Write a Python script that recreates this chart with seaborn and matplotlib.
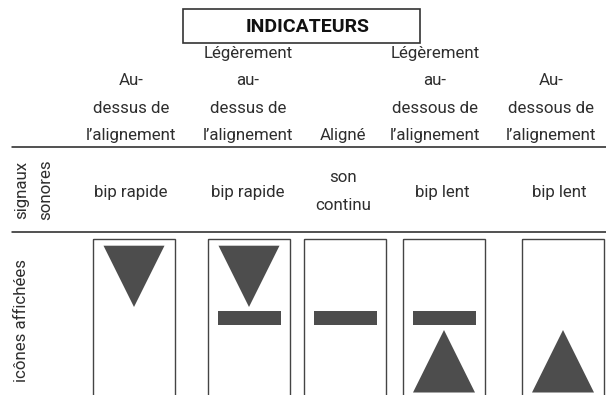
import matplotlib.pyplot as plt
from matplotlib.patches import Polygon, Rectangle
import seaborn as sns

sns.set_theme(style="white")
plt.rcParams['font.family'] = ['Roboto', 'DejaVu Sans']

# table content
title = "INDICATEURS"
headers = [
    ["Au-", "dessus de", "l’alignement"],
    ["Légèrement", "au-", "dessus de", "l’alignement"],
    ["Aligné"],
    ["Légèrement", "au-", "dessous de", "l’alignement"],
    ["Au-", "dessous de", "l’alignement"],
]
sounds = [["bip rapide"], ["bip rapide"], ["son", "continu"], ["bip lent"], ["bip lent"]]
icons = ["down", "down_bar", "bar", "bar_up", "up"]
row_labels = [["signaux", "sonores"], ["icônes affichées"]]

# layout (pixels)
head_x = [131, 248, 343, 435, 551]
sound_x = [131, 248, 343, 442, 559]
box_left = [93, 208, 304, 403, 522]
box_w = 82
dark = "#4d4d4d"
txt = "#2e2e2e"
fs = 12.2

fig = plt.figure(figsize=(6.06, 3.95), dpi=100)
ax = fig.add_axes([0, 0, 1, 1])
ax.set_xlim(0, 606)
ax.set_ylim(395, 0)
ax.axis("off")

# title box
ax.add_patch(Rectangle((183, 9), 237, 34, fill=False, ec="#333333", lw=1.2))
ax.text(308, 26.5, title, ha="center", va="center", fontsize=14,
        weight="bold", color="#111111")

# column headers, bottom aligned
pitch = 27.3
for x, lines in zip(head_x, headers):
    for i, line in enumerate(reversed(lines)):
        ax.text(x, 140 - i * pitch, line, ha="center", va="baseline",
                fontsize=fs, color=txt)

# separators
ax.plot([12, 606], [147, 147], color="#222222", lw=1.1)
ax.plot([12, 606], [231.5, 231.5], color="#222222", lw=1.1)

# row labels
ax.text(22, 190, row_labels[0][0], rotation=90, ha="center", va="center",
        fontsize=fs, color=txt)
ax.text(46, 190, row_labels[0][1], rotation=90, ha="center", va="center",
        fontsize=fs, color=txt)
ax.text(22, 320, row_labels[1][0], rotation=90, ha="center", va="center",
        fontsize=fs, color=txt)

# sound signals
for x, lines in zip(sound_x, sounds):
    if len(lines) == 1:
        ax.text(x, 196.5, lines[0], ha="center", va="baseline", fontsize=fs, color=txt)
    else:
        ax.text(x, 182.5, lines[0], ha="center", va="baseline", fontsize=fs, color=txt)
        ax.text(x, 210, lines[1], ha="center", va="baseline", fontsize=fs, color=txt)

# icon boxes
for left, icon in zip(box_left, icons):
    cx = left + box_w / 2
    ax.add_patch(Rectangle((left, 238.5), box_w, 170, fill=False, ec="#444444", lw=1.0))
    if "down" in icon:
        ax.add_patch(Polygon([[cx - 30.5, 245.7], [cx + 30.5, 245.7], [cx, 307]],
                             closed=True, fc=dark, ec="none"))
    if "bar" in icon:
        ax.add_patch(Rectangle((cx - 31.5, 310.5), 63, 14, fc=dark, ec="none"))
    if "up" in icon:
        ax.add_patch(Polygon([[cx - 31, 392.5], [cx + 31, 392.5], [cx, 330]],
                             closed=True, fc=dark, ec="none"))

fig.savefig("out.png", dpi=100, facecolor="white")
